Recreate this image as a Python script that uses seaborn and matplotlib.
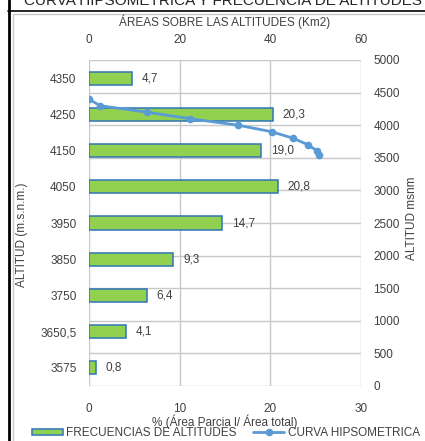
import matplotlib
matplotlib.use("Agg")
import matplotlib.pyplot as plt
from matplotlib.lines import Line2D
from matplotlib.patches import Patch
import seaborn as sns
import pandas as pd

# Frequency of altitudes (class midpoints, % of total area)
altitudes = ["4350", "4250", "4150", "4050", "3950", "3850", "3750", "3650,5", "3575"]
pct_area = [4.7, 20.3, 19.0, 20.8, 14.7, 9.3, 6.4, 4.1, 0.8]

# Hypsometric curve: cumulative area above each altitude (km2) vs altitude (m)
cum_area = [0.0, 2.4, 12.7, 22.3, 32.9, 40.3, 45.0, 48.3, 50.4, 50.8]
curve_alt = [4400, 4300, 4200, 4100, 4000, 3900, 3800, 3700, 3601, 3550]

pct_ticks = [0, 10, 20, 30]
area_ticks = [0, 20, 40, 60]
alt_ticks = list(range(0, 5001, 500))

BAR_FILL = "#92D050"
BAR_EDGE = "#2E75B6"
LINE_COL = "#5B9BD5"
GRID_COL = "#C8C8C8"
BORDER_COL = "#C8C8C8"
TXT = "#404040"

sns.set_style("white")
plt.rcParams["font.family"] = ["Liberation Sans", "DejaVu Sans"]
plt.rcParams["font.size"] = 8

W, H = 425, 441
fig = plt.figure(figsize=(W / 100, H / 100), dpi=100)

def fx(px):
    return px / W

def fy(py):
    return 1 - py / H

pos = [fx(89), fy(386), fx(361) - fx(89), fy(60) - fy(386)]

# outer frame of the report page and chart area border
fig.add_artist(Line2D([fx(8.5), fx(8.5)], [0, 1], color="black", lw=2))
fig.add_artist(Line2D([fx(8), 1], [fy(11), fy(11)], color="black", lw=1.2))
fig.add_artist(Line2D([fx(13.5), fx(13.5)], [0, fy(13.5)], color=BORDER_COL, lw=1))
fig.add_artist(Line2D([fx(13.5), 1], [fy(13.5), fy(13.5)], color=BORDER_COL, lw=1))
fig.text(0.525, fy(5), "CURVA HIPSOMETRICA Y FRECUENCIA DE ALTITUDES",
         ha="center", va="baseline", fontsize=11, color="#262626")

# secondary scales: area (top) and altitude (right); gridlines live here
ax_alt = fig.add_axes(pos, zorder=0)
ax_alt.set_xlim(0, 60)
ax_alt.set_ylim(0, 5000)
ax_alt.set_xticks(area_ticks)
ax_alt.set_yticks(alt_ticks)
ax_alt.xaxis.tick_top()
ax_alt.yaxis.tick_right()
ax_alt.tick_params(axis="x", length=0, pad=10, labelsize=8.5, colors=TXT)
ax_alt.tick_params(axis="y", length=0, pad=9, labelsize=8.5, colors=TXT)
ax_alt.grid(True, which="major", axis="both", color=GRID_COL, linewidth=1,
            linestyle="-")
for s in ax_alt.spines.values():
    s.set_visible(False)

# primary axes: horizontal bars of altitude frequencies
ax_bar = fig.add_axes(pos, zorder=1)
df = pd.DataFrame({"alt": altitudes, "pct": pct_area})
sns.barplot(data=df, x="pct", y="alt", orient="h", color=BAR_FILL,
            saturation=1, edgecolor=BAR_EDGE, linewidth=1.1, width=0.36,
            ax=ax_bar)
ax_bar.patch.set_visible(False)
ax_bar.set_xlim(0, 30)
ax_bar.set_ylim(len(altitudes) - 0.5, -0.5)
ax_bar.set_xticks(pct_ticks)
ax_bar.grid(False)
ax_bar.set_xlabel("")
ax_bar.set_ylabel("")
ax_bar.tick_params(axis="x", length=0, pad=12, labelsize=8.5, colors=TXT)
ax_bar.tick_params(axis="y", length=0, pad=9, labelsize=8.5, colors=TXT)
for s in ax_bar.spines.values():
    s.set_visible(False)
for cont in ax_bar.containers:
    ax_bar.bar_label(cont, labels=[f"{v:.1f}".replace(".", ",") for v in pct_area],
                     padding=7, fontsize=8.5, color=TXT)

# hypsometric curve drawn above the bars, on the area/altitude scales
ax_line = fig.add_axes(pos, zorder=2)
curve = pd.DataFrame({"area": cum_area, "alt": curve_alt})
sns.lineplot(data=curve, x="area", y="alt", sort=False, color=LINE_COL,
             lw=2, marker="o", markersize=5.5, markeredgewidth=0, ax=ax_line)
ax_line.patch.set_visible(False)
ax_line.set_xlim(0, 60)
ax_line.set_ylim(0, 5000)
ax_line.set_xlabel("")
ax_line.set_ylabel("")
ax_line.set_xticks([])
ax_line.set_yticks([])
for s in ax_line.spines.values():
    s.set_visible(False)

# axis titles
fig.text(fx(225), fy(22), "ÁREAS SOBRE LAS ALTITUDES (Km2)", ha="center",
         va="center", fontsize=8.5, color=TXT)
fig.text(fx(225), fy(422), "% (Área Parcia l/ Área total)", ha="center",
         va="center", fontsize=8.5, color=TXT)
fig.text(fx(22), fy(235), "ALTITUD (m.s.n.m.)", ha="center", va="center",
         rotation=90, fontsize=8.5, color=TXT)
fig.text(fx(412), fy(218), "ALTITUD msnm", ha="center", va="center",
         rotation=90, fontsize=8.5, color=TXT)

handles = [
    Patch(facecolor=BAR_FILL, edgecolor=BAR_EDGE, lw=1.1),
    Line2D([], [], color=LINE_COL, lw=2, marker="o", markersize=5.5,
           markeredgewidth=0),
]
leg = fig.legend(handles, ["FRECUENCIAS DE ALTITUDES", "CURVA HIPSOMETRICA"],
                 loc="center", bbox_to_anchor=(fx(226), fy(433)), ncol=2,
                 frameon=False, fontsize=8.5, handlelength=2.6,
                 handleheight=0.45, handletextpad=0.3, columnspacing=1.4,
                 borderpad=0, labelcolor=TXT)

fig.savefig("out.png", dpi=100)
